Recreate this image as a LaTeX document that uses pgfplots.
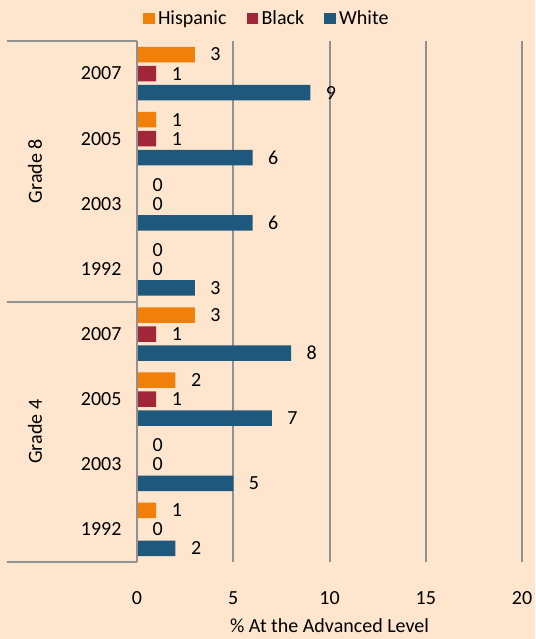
\documentclass[border=0pt]{standalone}
\usepackage{fontspec}
\setmainfont{Carlito}
\usepackage{pgfplots}
\pgfplotsset{compat=1.18}
\definecolor{bg}{RGB}{253,229,206}
\definecolor{hisp}{RGB}{240,128,10}
\definecolor{blk}{RGB}{160,38,56}
\definecolor{wht}{RGB}{30,88,124}
\definecolor{gridc}{RGB}{145,145,145}
\pgfplotsset{mylegend/.style={legend image code/.code={\path (0pt,0pt) -- (13pt,0pt);\fill[##1] (0pt,-5.5pt) rectangle (11.5pt,6pt);}}}
\begin{document}
\begin{tikzpicture}[font=\fontsize{20}{24}\selectfont]
\fill[bg] (-137pt,-77pt) rectangle (398pt,562pt);
\path[use as bounding box] (-137pt,-77pt) rectangle (398pt,562pt);
\begin{axis}[at={(0pt,0pt)}, anchor=south west, scale only axis, width=385pt, height=521pt,
  font=\fontsize{20}{24}\selectfont,
  /pgf/number format/assume math mode=true,
  xbar, bar width=15.5pt,
  xmin=0, xmax=20, ymin=-0.5, ymax=7.5, y dir=reverse,
  xtick={0,5,10,15,20}, ytick={0,...,7},
  yticklabels={2007,2005,2003,1992,2007,2005,2003,1992},
  major tick length=0pt, xmajorgrids, major grid style={gridc, line width=2pt},
  axis line style={draw=none},
  xticklabel style={yshift=-26pt}, yticklabel style={xshift=-12pt},
  xlabel={\% At the Advanced Level},
  xlabel style={at={(axis description cs:0.5,0)}, anchor=north, yshift=-53pt},
  nodes near coords, every node near coord/.append style={anchor=west, xshift=12pt, text=black},
  legend style={at={(axis description cs:0.337,1.043)}, anchor=center, draw=none, fill=none,
    legend columns=3, /tikz/every even column/.append style={column sep=18pt}},
  clip=false,
]
\addplot[fill=hisp, draw=none, bar shift=19pt, mylegend] coordinates {(3,0) (1,1) (0,2) (0,3) (3,4) (2,5) (0,6) (1,7)};
\addplot[fill=blk, draw=none, bar shift=0pt, mylegend] coordinates {(1,0) (1,1) (0,2) (0,3) (1,4) (1,5) (0,6) (0,7)};
\addplot[fill=wht, draw=none, bar shift=-19pt, mylegend] coordinates {(9,0) (6,1) (6,2) (3,3) (8,4) (7,5) (5,6) (2,7)};
\legend{Hispanic,Black,White}
\draw[gridc, line width=2pt] (rel axis cs:0,0) -- (rel axis cs:0,1);
\draw[gridc, line width=2pt] (axis cs:0,-0.5) -- ++(-130pt,0pt);
\draw[gridc, line width=2pt] (axis cs:0,3.5) -- ++(-130pt,0pt);
\draw[gridc, line width=2pt] (axis cs:0,7.5) -- ++(-130pt,0pt);
\node[rotate=90] at ([xshift=-102pt]axis cs:0,1.5) {Grade 8};
\node[rotate=90] at ([xshift=-102pt]axis cs:0,5.5) {Grade 4};
\end{axis}
\end{tikzpicture}
\end{document}
